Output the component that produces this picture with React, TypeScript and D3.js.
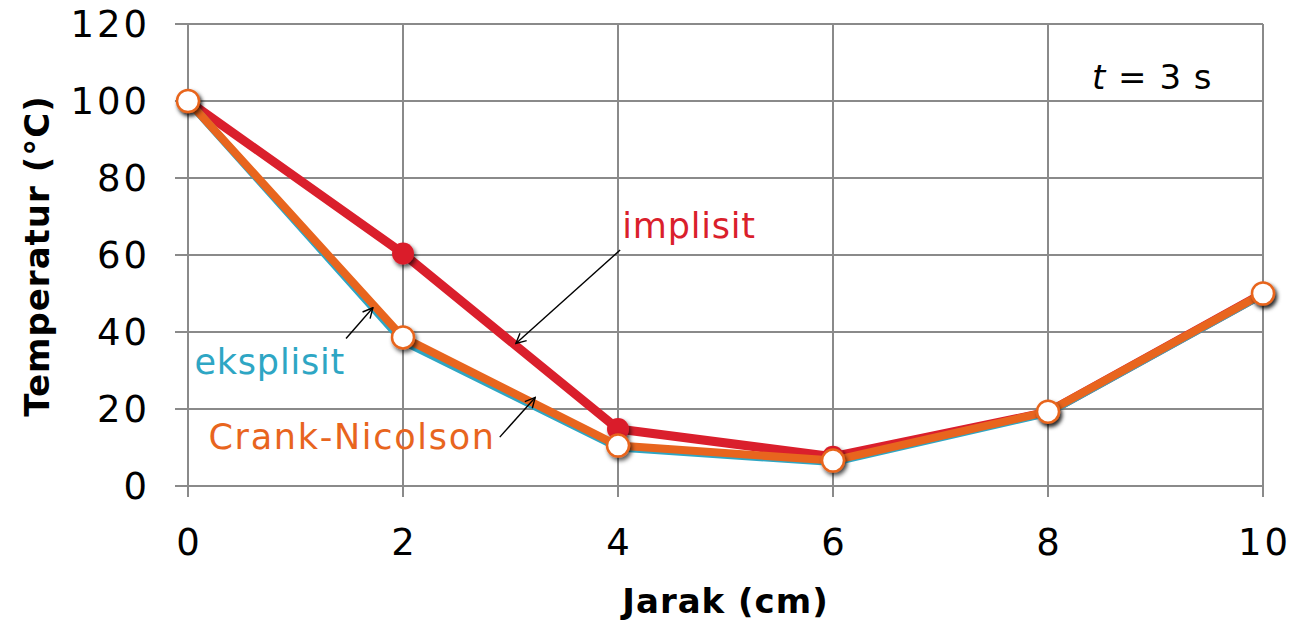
import React from "react";
import * as d3 from "d3";

const xValues = [0, 2, 4, 6, 8, 10];
const implisit = [100, 60.4, 14.8, 7.6, 19.2, 50];
const eksplisit = [100, 37.6, 10.0, 6.2, 19.0, 49.8];
const crankNicolson = [100, 38.6, 10.5, 6.6, 19.3, 50];
const xTicks = [0, 2, 4, 6, 8, 10];
const yTicks = [0, 20, 40, 60, 80, 100, 120];

const W = 1305, H = 623;
const margin = { left: 188, right: 42, top: 24, bottom: 137 };

const RED = "#da1f2c";
const ORANGE = "#e8651e";
const TEAL = "#2ea6c4";
const GRID = "#8a8a8a";
const FONT = "'DejaVu Sans', sans-serif";

export default function App() {
  const x = d3.scaleLinear().domain([0, 10]).range([margin.left, W - margin.right]);
  const y = d3.scaleLinear().domain([0, 120]).range([H - margin.bottom, margin.top]);
  const line = (vals: number[]) =>
    d3.line<number>().x((_, i) => x(xValues[i])).y((v) => y(v))(vals) || "";

  const arrows = [
    { x1: 4.02, y1: 61.3, x2: 3.05, y2: 37.0 },
    { x1: 1.47, y1: 38.3, x2: 1.72, y2: 46.3 },
    { x1: 2.90, y1: 12.7, x2: 3.23, y2: 23.0 },
  ];

  return (
    <svg width={W} height={H} style={{ display: "block", position: "absolute", left: 0, top: 0 }}>
      <defs>
        <filter id="sh" x="-50%" y="-50%" width="200%" height="200%">
          <feDropShadow dx="2" dy="3" stdDeviation="2" floodColor="#000" floodOpacity="0.65" />
        </filter>
        <marker id="ah" viewBox="0 0 12 12" refX="11" refY="6" markerWidth="12" markerHeight="12" markerUnits="userSpaceOnUse" orient="auto">
          <path d="M1,1 L11,6 L1,11" fill="none" stroke="#000" strokeWidth="1.4" />
        </marker>
      </defs>
      <rect width={W} height={H} fill="#fff" />
      {/* grid */}
      {yTicks.map((t) => (
        <line key={"gy" + t} x1={margin.left - 13} x2={W - margin.right} y1={y(t)} y2={y(t)} stroke={GRID} strokeWidth={2} />
      ))}
      {xTicks.map((t) => (
        <line key={"gx" + t} x1={x(t)} x2={x(t)} y1={y(120)} y2={y(0) + 11} stroke={GRID} strokeWidth={2} />
      ))}
      {/* tick labels */}
      {yTicks.map((t) => (
        <text key={"ly" + t} x={margin.left - 38} y={y(t)} dy="0.36em" textAnchor="end" fontFamily={FONT} fontSize={37} letterSpacing={3} fill="#000">{t}</text>
      ))}
      {xTicks.map((t) => (
        <text key={"lx" + t} x={x(t) + 1.5} y={y(0) + 69} textAnchor="middle" fontFamily={FONT} fontSize={37} letterSpacing={3} fill="#000">{t}</text>
      ))}
      {/* axis titles */}
      <text x={(x(0) + x(10)) / 2} y={613} textAnchor="middle" fontFamily={FONT} fontWeight="bold" fontSize={34} letterSpacing={1}>Jarak (cm)</text>
      <text transform={`translate(49,${y(60) + 1}) rotate(-90)`} textAnchor="middle" fontFamily={FONT} fontWeight="bold" fontSize={34} letterSpacing={1}>Temperatur (°C)</text>

      {/* series */}
      <path d={line(implisit)} fill="none" stroke={RED} strokeWidth={9} strokeLinejoin="round" />
      {implisit.map((v, i) => (
        <circle key={"ri" + i} cx={x(xValues[i])} cy={y(v)} r={11} fill={RED} filter="url(#sh)" />
      ))}
      <path d={line(eksplisit)} fill="none" stroke={TEAL} strokeWidth={8} strokeLinejoin="round" />
      <path d={line(crankNicolson)} fill="none" stroke={ORANGE} strokeWidth={8} strokeLinejoin="round" />
      {crankNicolson.map((v, i) => (
        <circle key={"cn" + i} cx={x(xValues[i])} cy={y(v)} r={11} fill="#fff" stroke={ORANGE} strokeWidth={2.5} filter="url(#sh)" />
      ))}

      {/* annotations */}
      {arrows.map((a, i) => (
        <line key={"a" + i} x1={x(a.x1)} y1={y(a.y1)} x2={x(a.x2)} y2={y(a.y2)} stroke="#000" strokeWidth={1.4} markerEnd="url(#ah)" />
      ))}
      <text x={x(4.04)} y={y(64.5)} fontFamily={FONT} fontSize={35} letterSpacing={0.8} fill={RED}>implisit</text>
      <text x={x(0.06)} y={y(29)} fontFamily={FONT} fontSize={35} letterSpacing={0.8} fill={TEAL}>eksplisit</text>
      <text x={x(0.19)} y={y(9.5)} fontFamily={FONT} fontSize={35} letterSpacing={1.7} fill={ORANGE}>Crank-Nicolson</text>
      <text x={x(8.97)} y={y(103)} textAnchor="middle" fontFamily={FONT} fontSize={34} fill="#000" letterSpacing={1}>
        <tspan fontStyle="italic">t</tspan>{" =\u00a03\u00a0s"}
      </text>
    </svg>
  );
}
